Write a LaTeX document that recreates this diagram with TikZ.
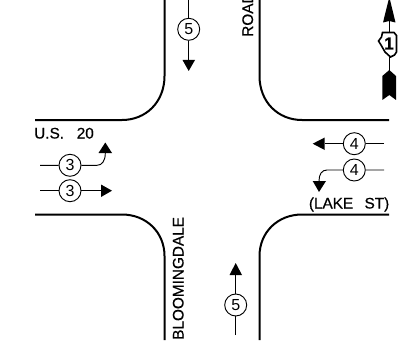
\documentclass[tikz,border=0pt]{standalone}
\usepackage{fontspec}
\setmainfont{Liberation Sans}
\newfontfamily\cadfont[FakeBold=0.5]{Liberation Sans}
\begin{document}
\begin{tikzpicture}[x=0.75pt,y=-0.75pt,
  curb/.style={line width=1.5pt,line cap=butt},
  flow/.style={line width=0.7pt},
  headfill/.style={fill=black,draw=none},
  vol/.style={circle,draw,line width=0.7pt,fill=white,minimum size=16.5pt,inner sep=0pt,font=\fontsize{12}{12}\selectfont},
  lbl/.style={inner sep=0pt,font=\cadfont\fontsize{11.5}{12}\selectfont}]
\useasboundingbox (0,0) rectangle (409,349);
\clip (0,0) rectangle (409,349);
% curbs
\coordinate (nwa) at (164.5,0);
\coordinate (nwb) at (35,120);
\draw[curb] (nwa) -- (164.5,76) .. controls (164.5,102) and (146,120) .. (122,120) -- (nwb);
\coordinate (swa) at (164.5,340);
\coordinate (swb) at (35,214.5);
\draw[curb] (swa) -- (164.5,256) .. controls (164.5,232) and (146,214.5) .. (122,214.5) -- (swb);
\coordinate (nea) at (259.5,0);
\coordinate (neb) at (389,120);
\draw[curb] (nea) -- (259.5,76) .. controls (259.5,102) and (278,120) .. (302,120) -- (neb);
\coordinate (sea) at (259.5,340);
\coordinate (seb) at (389,214.5);
\draw[curb] (sea) -- (259.5,256) .. controls (259.5,232) and (278,214.5) .. (302,214.5) -- (seb);
% movements
\node[vol] (s5) at (188.7,29.3) {5};
\coordinate (s5a) at (188.7,0);
\coordinate (s5b) at (188.7,60);
\draw[flow] (s5a) -- (s5) -- (s5b);
\fill[headfill] (182.5,60) -- (195,60) -- (188.7,71) -- cycle;
\node[vol] (n5) at (235.7,305) {5};
\coordinate (n5a) at (235.7,335);
\coordinate (n5b) at (235.7,275);
\draw[flow] (n5a) -- (n5) -- (n5b);
\fill[headfill] (229.5,275) -- (242,275) -- (235.7,263) -- cycle;
\node[vol] (e3a) at (70,165.3) {3};
\coordinate (e3as) at (40,165.3);
\draw[flow] (e3as) -- (e3a) -- (97,165.3) .. controls (102,165.3) and (105.3,161) .. (105.3,153);
\fill[headfill] (98.5,153) -- (112,153) -- (105.3,142.5) -- cycle;
\node[vol] (e3b) at (70,190.7) {3};
\coordinate (e3bs) at (40,190.7);
\coordinate (e3be) at (101,190.7);
\draw[flow] (e3bs) -- (e3b) -- (e3be);
\fill[headfill] (101,184.5) -- (101,197) -- (112,190.7) -- cycle;
\node[vol] (w4a) at (354.3,143.7) {4};
\coordinate (w4as) at (384,143.7);
\coordinate (w4ae) at (324.7,143.7);
\draw[flow] (w4as) -- (w4a) -- (w4ae);
\fill[headfill] (324.7,137.5) -- (324.7,150) -- (312.7,143.7) -- cycle;
\node[vol] (w4b) at (354.3,170) {4};
\coordinate (w4bs) at (384,170);
\draw[flow] (w4bs) -- (w4b) -- (327,170) .. controls (322,170) and (319,174) .. (319,181);
\fill[headfill] (312.7,181) -- (326,181) -- (319,192) -- cycle;
% labels
\node[lbl,anchor=base west] (us) at (34,138.5) {U.S.\hspace{9.5pt}20};
\node[lbl,anchor=base east] (lake) at (389.5,208.5) {(LAKE\hspace{8.5pt}ST)};
\node[lbl,rotate=90,anchor=base west] (blo) at (183.5,340) {BLOOMINGDALE};
\node[lbl,rotate=90,anchor=base west] (road) at (253,37) {ROAD};
% north arrow
\draw[line width=1pt] (389.3,20) -- (389.3,72);
\fill[headfill] (389.3,-3) -- (395.5,22.5) -- (389.3,21) -- (383,22.5) -- cycle;
\fill[headfill] (389.3,70) -- (396,76) -- (396,100) -- (389.3,95) -- (382.3,100) -- (382.3,76) -- cycle;
\draw[line width=1.2pt,fill=white] (382.5,32.5) -- (394,32.5) -- (396.5,35.5) -- (396.5,52) -- (394.5,55) -- (390.5,57) -- (385,52) -- (381,45) -- (378.5,41) -- (381.5,37) -- cycle;
\node[inner sep=0pt,font=\cadfont\bfseries\fontsize{13}{13}\selectfont] (one) at (389,43.5) {1};
\end{tikzpicture}
\end{document}
